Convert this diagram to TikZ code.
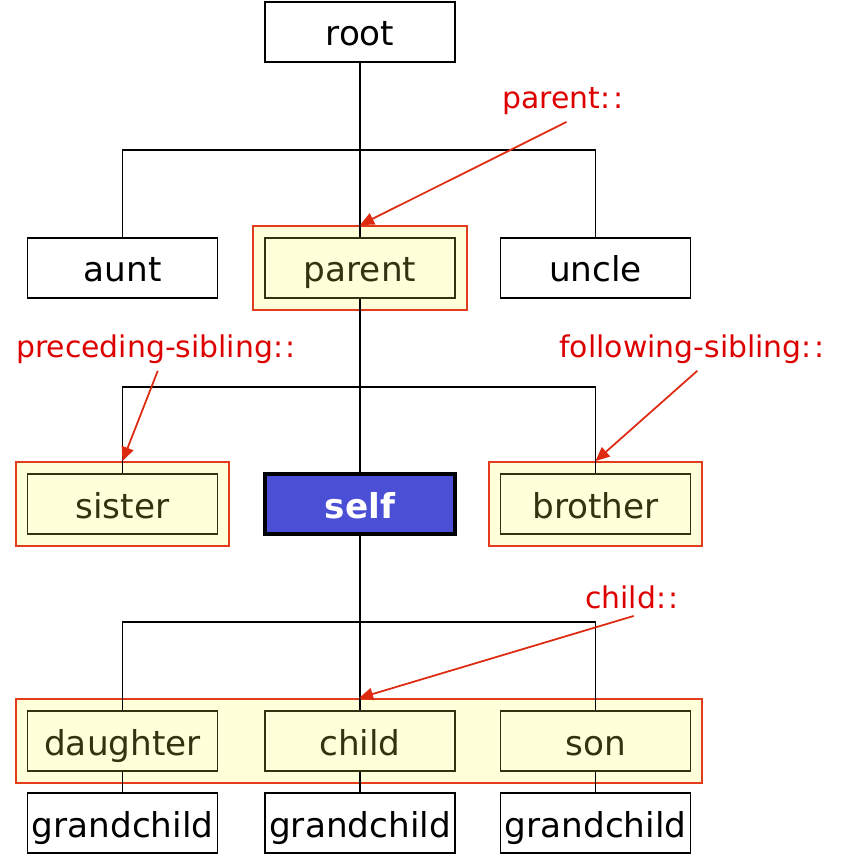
\documentclass[tikz,border=0pt]{standalone}
\usepackage{fontspec}
\setmainfont{DejaVu Sans}
\usetikzlibrary{fit,arrows.meta,backgrounds}
\definecolor{axisred}{HTML}{DD0000}
\definecolor{arrowred}{HTML}{DD2A10}
\definecolor{framered}{HTML}{E23C1C}
\definecolor{paleyellow}{HTML}{FFFFD9}
\definecolor{olive}{HTML}{333311}
\definecolor{selfblue}{HTML}{4B4FD6}
\newcommand{\axiscolons}{:\kern1.5pt:}
\begin{document}
\begin{tikzpicture}[x=0.02cm,y=-0.02cm]

    \tikzset{
      plain/.style={
        draw=black,
        line width=1.1pt,
        fill=white,
        minimum width=3.8cm,
        minimum height=1.2cm,
        inner sep=0pt,
        text height=0.6cm,
        text depth=0.04cm,
        font=\fontsize{19.5}{22}\selectfont,
      },
      hit/.style={
        plain,
        draw=olive,
        fill=paleyellow,
        text=olive,
      },
      axisbox/.style={
        draw=framered,
        line width=1.1pt,
        fill=paleyellow,
        inner sep=0.22cm,
      },
      axislabel/.style={
        text=axisred,
        font=\fontsize{17}{20}\selectfont,
        inner sep=2pt,
      },
      pointer/.style={
        draw=arrowred,
        line width=1pt,
        -{Triangle[length=8pt,width=7pt]},
      },
      trunk/.style={line width=1.3pt},
      branch/.style={line width=0.9pt},
    }
    \useasboundingbox (0,0) rectangle (843,864);

    % tree nodes
    \node[plain] (root) at (360,32) {root};
    \node[plain] (aunt) at (122.5,268) {aunt};
    \node[hit] (parent) at (360,268) {parent};
    \node[plain] (uncle) at (595.5,268) {uncle};
    \node[hit] (sister) at (122.5,504) {sister};
    \node[plain,draw=black,line width=2.2pt,fill=selfblue,text=white,
          font=\fontsize{19.5}{22}\selectfont\bfseries] (self) at (360,504) {self};
    \node[hit] (brother) at (595.5,504) {brother};
    \node[hit] (daughter) at (122.5,741) {daughter};
    \node[hit] (child) at (360,741) {child};
    \node[hit] (son) at (595.5,741) {son};
    \node[plain] (gc1) at (122.5,823) {grandchild};
    \node[plain] (gc2) at (360,823) {grandchild};
    \node[plain] (gc3) at (595.5,823) {grandchild};

    % frames round the selected axes
    \begin{scope}[on background layer]
      \node[axisbox,fit=(parent)] (parentbox) {};
      \node[axisbox,fit=(sister)] (sisterbox) {};
      \node[axisbox,fit=(brother)] (brotherbox) {};
      \node[axisbox,fit=(daughter)(son)] (kidsbox) {};
    \end{scope}

    % connectors
    \coordinate (j1) at (360,150);
    \coordinate (j2) at (360,387);
    \coordinate (j3) at (360,622);
    \draw[trunk] (root.south) -- (parent.north);
    \draw[branch] (aunt.north) |- (j1) -| (uncle.north);
    \draw[trunk] (parent.south) -- (self.north);
    \draw[branch] (sister.north) |- (j2) -| (brother.north);
    \draw[trunk] (self.south) -- (child.north);
    \draw[branch] (daughter.north) |- (j3) -| (son.north);
    \draw[branch] (daughter.south) -- (gc1.north);
    \draw[branch] (child.south) -- (gc2.north);
    \draw[branch] (son.south) -- (gc3.north);

    % axis labels
    \node[axislabel] (lblparent) at (563,101) {parent\axiscolons};
    \node[axislabel] (lblpreceding) at (156,349) {preceding-sibling\axiscolons};
    \node[axislabel] (lblfollowing) at (692,349) {following-sibling\axiscolons};
    \node[axislabel] (lblchild) at (632,597) {child\axiscolons};
    \draw[pointer] ([xshift=2pt,yshift=-2pt]lblparent.south) -- (parentbox.north);
    \draw[pointer] ([xshift=1pt,yshift=-2pt]lblpreceding.south) -- (sisterbox.north);
    \draw[pointer] ([xshift=3pt,yshift=-2pt]lblfollowing.south) -- (brotherbox.north);
    \draw[pointer] ([xshift=1pt,yshift=-2pt]lblchild.south) -- (kidsbox.north);

\end{tikzpicture}
\end{document}
